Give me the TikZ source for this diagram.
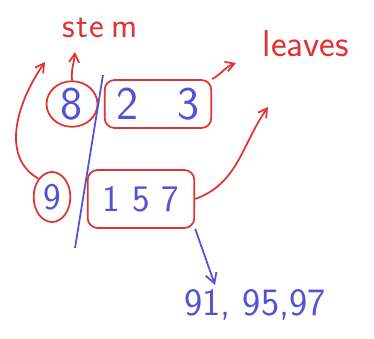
\documentclass[tikz,border=0pt]{standalone}
\usepackage{xcolor}
\usetikzlibrary{arrows.meta,positioning,shapes.geometric}
\definecolor{penred}{RGB}{222,52,52}
\definecolor{penblue}{RGB}{82,82,214}
\begin{document}
\begin{tikzpicture}[
x=0.03cm, y=-0.03cm,
line width=1.5pt,
font=\sffamily,
ring/.style={draw=penred, ellipse, inner sep=0pt, text=penblue},
leafbox/.style={draw=penred, rounded corners=0.3cm, inner sep=0pt, text=penblue},
word/.style={text=penred, font=\sffamily\fontsize{30}{34}\selectfont},
redarr/.style={draw=penred, -{Straight Barb[length=2.6mm,width=3mm]}},
bluearr/.style={draw=penblue, -{Straight Barb[length=3mm,width=3.4mm]}}
]
\useasboundingbox (0,0) rectangle (374,338);
% labels
\node[word] (stem) at (100,28) {s\hspace{1pt}t\hspace{1pt}e\hspace{6pt}m};
\node[word, font=\sffamily\fontsize{32}{36}\selectfont] (leaves) at (306,44) {leaves};
% first row
\node[ring, minimum width=1.53cm, minimum height=1.26cm, font=\sffamily\fontsize{40}{44}\selectfont] (eight) at (72,104) {8};
\node[leafbox, minimum width=3.2cm, minimum height=1.44cm, font=\sffamily\fontsize{40}{44}\selectfont] (row8) at (158,104) {2\hspace{1.15cm}3};
% second row
\node[ring, minimum width=1.1cm, minimum height=1.5cm, font=\sffamily\fontsize{32}{36}\selectfont] (nine) at (52,197) {9};
\node[leafbox, minimum width=3.2cm, minimum height=1.74cm, font=\sffamily\fontsize{32}{36}\selectfont] (row9) at (141,199) {1\hspace{0.35cm}5\hspace{0.35cm}7};
% values
\node[text=penblue, font=\sffamily\fontsize{33}{36}\selectfont] (values) at (255,305) {91, 95,97};
% divider
\coordinate (divtop) at (103,75);
\coordinate (divbot) at (75,248);
\draw[penblue] (divtop) -- (divbot);
% arrow ends
\coordinate (stemA) at (45,62);
\coordinate (stemB) at (75,52);
\coordinate (leafA) at (236,63);
\coordinate (leafB) at (268,107);
\coordinate (valtip) at (215,285);
\draw[redarr] (nine.north west) to[out=150, in=235] (stemA);
\draw[redarr] (eight.north) to[out=95, in=265] (stemB);
\draw[redarr] (row8.north east) to[out=30, in=200] (leafA);
\draw[redarr] (row9.east) to[out=20, in=235] (leafB);
\draw[bluearr] (row9.south east) -- (valtip);
\end{tikzpicture}
\end{document}
